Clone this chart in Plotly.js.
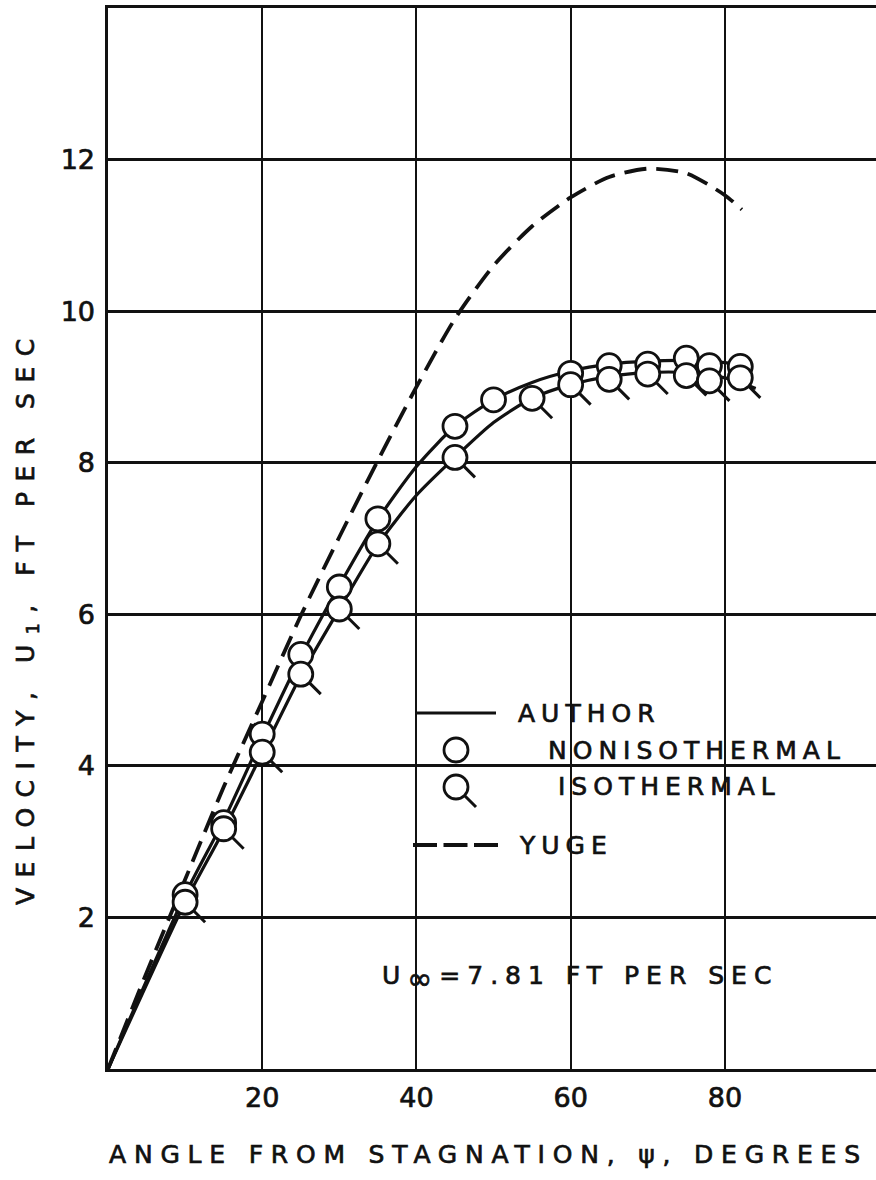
<!DOCTYPE html>
<html>
<head>
<meta charset="utf-8">
<script src="https://cdn.plot.ly/plotly-3.0.1.min.js"></script>
<style>
  html, body { margin: 0; padding: 0; background: #fff; }
  #chart { width: 876px; height: 1180px; }
  /* wide, evenly spaced drafting-style lettering with a slightly heavier pen */
  .annotation-text { letter-spacing: 6px; }
  .annotation-text, .xtick text, .ytick text { stroke: #111; stroke-width: 0.7px; }
</style>
</head>
<body>
<div id="chart"></div>
<script>
// Angle from stagnation (degrees) and velocity u1 (ft/sec)

// Author's measured points, nonisothermal runs
const nonisoAngle = [10, 15, 20, 25, 30, 35, 45, 50, 60, 65, 70, 75, 78, 82];
const nonisoVel   = [2.3, 3.25, 4.42, 5.47, 6.36, 7.26, 8.48, 8.83, 9.18, 9.28, 9.30, 9.38, 9.28, 9.27];

// Author's measured points, isothermal runs
const isoAngle = [10, 15, 20, 25, 30, 35, 45, 55, 60, 65, 70, 75, 78, 82];
const isoVel   = [2.2, 3.17, 4.18, 5.21, 6.07, 6.93, 8.07, 8.85, 9.03, 9.10, 9.17, 9.15, 9.08, 9.12];

// Author's faired curve through the nonisothermal points
const authorNonisoAngle = [0, 10, 15, 20, 25, 30, 35, 40, 45, 50, 55, 60, 65, 70, 75, 80, 83];
const authorNonisoVel   = [0, 2.3, 3.28, 4.38, 5.44, 6.38, 7.25, 7.95, 8.48, 8.83, 9.06, 9.21, 9.30, 9.34, 9.35, 9.32, 9.27];

// Author's faired curve through the isothermal points
const authorIsoAngle = [0, 10, 15, 20, 25, 30, 35, 40, 45, 50, 55, 60, 65, 70, 75, 80, 84];
const authorIsoVel   = [0, 2.2, 3.15, 4.17, 5.19, 6.07, 6.92, 7.57, 8.07, 8.53, 8.85, 9.03, 9.14, 9.19, 9.19, 9.12, 8.98];

// Yuge's curve
const yugeAngle = [0, 5, 10, 15, 20, 25, 30, 35, 40, 45, 50, 55, 60, 65, 70, 75, 80, 82.2];
const yugeVel   = [0, 1.27, 2.5, 3.72, 4.85, 5.98, 7.02, 8.03, 9.0, 9.9, 10.6, 11.12, 11.5, 11.77, 11.88, 11.82, 11.53, 11.34];

const xTicks = [20, 40, 60, 80];
const yTicks = [2, 4, 6, 8, 10, 12];

const seriesNames = ['AUTHOR', 'NONISOTHERMAL', 'ISOTHERMAL', 'YUGE'];
const xTitle = 'ANGLE FROM STAGNATION, ψ, DEGREES';
const yTitle = 'VELOCITY, U<sub>1</sub>, FT PER SEC';
const freeStreamNote = 'U<sub><span style="font-size:30px">∞</span></sub>=7.81 FT PER SEC';

// ---- layout geometry (pixels) ----
const W = 876, H = 1180;
const ML = 108, MR = 0, MT = 8, MB = 111;
const PW = W - ML - MR, PH = H - MT - MB;
const px = x => (x - ML) / PW;          // page x pixel -> paper fraction
const py = y => (H - MB - y) / PH;      // page y pixel -> paper fraction
const spaced = (text, gap) => '<span style="letter-spacing:' + gap + 'px">' + text + '</span>';

const INK = '#111';
const FONT = 'DejaVu Sans, Liberation Sans, sans-serif';
const markerSize = 24;
const markerLine = 2.8;

const traces = [
  { x: authorNonisoAngle, y: authorNonisoVel, mode: 'lines', name: seriesNames[0],
    line: { color: INK, width: 3.2, shape: 'spline', smoothing: 0.7 } },
  { x: authorIsoAngle, y: authorIsoVel, mode: 'lines', name: seriesNames[0],
    line: { color: INK, width: 3.2, shape: 'spline', smoothing: 0.7 } },
  { x: yugeAngle, y: yugeVel, mode: 'lines', name: seriesNames[3],
    line: { color: INK, width: 3.8, dash: '22px,10px', shape: 'spline', smoothing: 0.7 } },
  { x: nonisoAngle, y: nonisoVel, mode: 'markers', name: seriesNames[1],
    marker: { symbol: 'circle', size: markerSize, color: '#fff', line: { color: INK, width: markerLine } } },
  { x: isoAngle, y: isoVel, mode: 'markers', name: seriesNames[2],
    marker: { symbol: 'circle', size: markerSize, color: '#fff', line: { color: INK, width: markerLine } } }
];

const shapes = [];

// short tail on each isothermal marker, anchored at the data point
isoAngle.forEach((a, i) => {
  shapes.push({
    type: 'line', xref: 'x', yref: 'y', layer: 'above',
    xsizemode: 'pixel', ysizemode: 'pixel', xanchor: a, yanchor: isoVel[i],
    x0: 9, y0: -9, x1: 20, y1: -20,
    line: { color: INK, width: 3 }
  });
});

// white clearings in the grid behind the key and the note
const clearing = (x0, y0, x1, y1) => ({
  type: 'rect', xref: 'paper', yref: 'paper', layer: 'between',
  x0: px(x0), x1: px(x1), y0: py(y1), y1: py(y0),
  fillcolor: '#fff', line: { width: 0 }
});
shapes.push(clearing(396, 683, 666, 866));
shapes.push(clearing(666, 711, 848, 822));
shapes.push(clearing(378, 949, 786, 1013));

// key symbols
const keyX = 456;
shapes.push({ type: 'line', xref: 'paper', yref: 'paper', layer: 'above',
  x0: px(415), x1: px(496), y0: py(713), y1: py(713), line: { color: INK, width: 3.2 } });
shapes.push({ type: 'circle', xref: 'paper', yref: 'paper', layer: 'above',
  xsizemode: 'pixel', ysizemode: 'pixel', xanchor: px(keyX), yanchor: py(750),
  x0: -12, x1: 12, y0: -12, y1: 12,
  fillcolor: '#fff', line: { color: INK, width: markerLine } });
shapes.push({ type: 'circle', xref: 'paper', yref: 'paper', layer: 'above',
  xsizemode: 'pixel', ysizemode: 'pixel', xanchor: px(keyX), yanchor: py(787),
  x0: -12, x1: 12, y0: -12, y1: 12,
  fillcolor: '#fff', line: { color: INK, width: markerLine } });
shapes.push({ type: 'line', xref: 'paper', yref: 'paper', layer: 'above',
  xsizemode: 'pixel', ysizemode: 'pixel', xanchor: px(keyX), yanchor: py(787),
  x0: 9, y0: -9, x1: 20, y1: -20, line: { color: INK, width: 3 } });
shapes.push({ type: 'line', xref: 'paper', yref: 'paper', layer: 'above',
  x0: px(413), x1: px(498), y0: py(845), y1: py(845),
  line: { color: INK, width: 3.8, dash: '24px,6.5px' } });

const textFont = { family: FONT, size: 25, color: INK };
const label = (text, x, y, anchor) => ({
  text, xref: 'paper', yref: 'paper', x: px(x), y: py(y),
  xanchor: anchor || 'left', yanchor: 'middle', showarrow: false, font: textFont
});

const annotations = [
  label(seriesNames[0], 516, 713),
  label(seriesNames[1], 546, 750),
  label(seriesNames[2], 556, 787),
  label(seriesNames[3], 517, 845),
  label(spaced(freeStreamNote, 7), 580, 978, 'center'),
  label(spaced(xTitle, 7.8), 488, 1154, 'center'),
  Object.assign(label(spaced(yTitle, 10.5), 27, 617, 'center'), { textangle: -90 })
];

const layout = {
  width: W, height: H,
  margin: { l: ML, r: MR, t: MT, b: MB, pad: 0 },
  paper_bgcolor: '#fff', plot_bgcolor: '#fff',
  showlegend: false,
  font: { family: FONT, color: INK },
  xaxis: {
    range: [0, 99.6], tickvals: xTicks, ticktext: xTicks.map(String),
    showgrid: true, gridcolor: INK, gridwidth: 2,
    showline: true, linecolor: INK, linewidth: 3, mirror: true,
    zeroline: false, ticks: '', ticklabelstandoff: 3,
    tickfont: { family: FONT, size: 27, color: INK }, fixedrange: true
  },
  yaxis: {
    range: [0, 14], tickvals: yTicks, ticktext: yTicks.map(String),
    showgrid: true, gridcolor: INK, gridwidth: 3,
    showline: true, linecolor: INK, linewidth: 2.6, mirror: false,
    zeroline: false, ticks: '', ticklabelstandoff: 5,
    tickfont: { family: FONT, size: 27, color: INK }, fixedrange: true
  },
  shapes, annotations
};

Plotly.newPlot('chart', traces, layout, { staticPlot: true, displayModeBar: false });
</script>
</body>
</html>
